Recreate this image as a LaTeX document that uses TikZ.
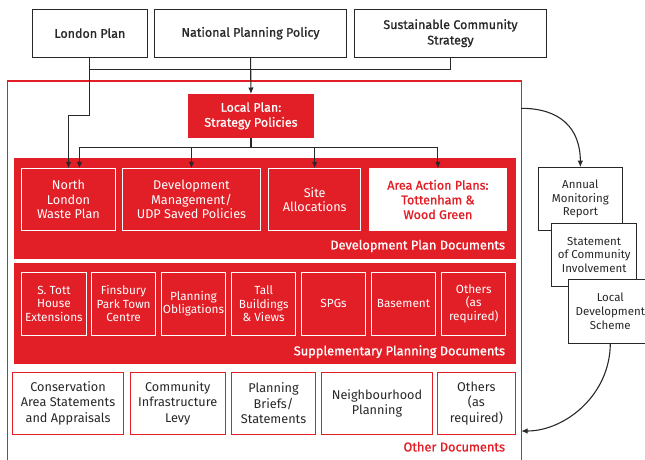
\documentclass[tikz,border=0pt]{standalone}
\usepackage{fontspec}
\setmainfont{Fira Sans}
\newfontfamily\medf[FakeBold=1]{Fira Sans}
\usetikzlibrary{arrows.meta,calc}
\definecolor{hred}{RGB}{226,30,38}
\definecolor{ink}{RGB}{40,40,40}
\begin{document}
\begin{tikzpicture}[x=1pt,y=-1pt,
  every node/.style={inner sep=0pt, outer sep=0pt, align=center},
  topbox/.style={draw=ink, line width=1pt, fill=white, text=ink, font=\medf\fontsize{12.5}{15.5}\selectfont, minimum height=47.7pt},
  band/.style={fill=hred, minimum width=502.2pt, minimum height=100.5pt},
  redbox/.style={draw=white, line width=0.9pt, fill=hred, text=white, font=\fontsize{12.7}{14.7}\selectfont, minimum height=62.4pt},
  whiteredbox/.style={draw=white, line width=0.9pt, fill=white, text=hred, font=\medf\fontsize{12.5}{14.7}\selectfont, minimum height=62.4pt},
  suppbox/.style={draw=white, line width=0.9pt, fill=hred, text=white, font=\fontsize{11.8}{13.6}\selectfont, minimum height=62.7pt, minimum width=64.4pt},
  otherbox/.style={draw=hred, line width=0.9pt, fill=white, text=ink, font=\fontsize{12.7}{15.3}\selectfont, minimum height=62.7pt},
  sidebox/.style={draw=ink, line width=1pt, fill=white, text=ink, font=\fontsize{11.5}{13.6}\selectfont, minimum width=84.5pt, minimum height=63.6pt},
  bandlabel/.style={anchor=east, font=\medf\fontsize{12.8}{15}\selectfont},
  conn/.style={draw=ink, line width=1.1pt},
  arr/.style={conn, -{Latex[length=6.5pt,width=5.5pt]}}
]
\useasboundingbox (0,0) rectangle (645,459);

% outer frame (runs off the bottom edge)
\node[draw=hred, line width=1.3pt, minimum width=513.8pt, minimum height=400pt, anchor=north west] (frame) at (7.4,81) {};

% top boxes
\node[topbox, minimum width=114.8pt] (lp) at (89.9,33.2) {London Plan};
\node[topbox, minimum width=191.7pt] (npp) at (250.55,33.2) {National Planning Policy};
\node[topbox, minimum width=191.7pt] (scs) at (450.45,33.2) {Sustainable Community\\Strategy};

% local plan
\node[fill=hred, text=white, font=\medf\fontsize{12.5}{15}\selectfont, minimum width=125.9pt, minimum height=43.7pt] (lpl) at (250.95,115.85) {Local Plan:\\Strategy Policies};

% bands
\node[band] (dpd) at (264.7,208.65) {};
\node[bandlabel, text=white] (dpdl) at (505,246) {Development Plan Documents};
\node[band] (spd) at (264.7,313.5) {};
\node[bandlabel, text=white] (spdl) at (505,351.7) {Supplementary Planning Documents};
\node[bandlabel, text=hred] (odl) at (505,446.7) {Other Documents};

% development plan documents
\node[redbox, minimum width=93.4pt] (nl) at (68.5,199.5) {North\\London\\Waste Plan};
\node[redbox, minimum width=137.8pt] (dm) at (191.5,199.5) {Development\\Management/\\UDP Saved Policies};
\node[redbox, minimum width=92.2pt] (sa) at (314.7,199.5) {Site\\Allocations};
\node[whiteredbox, minimum width=137pt] (aap) at (437.9,199.5) {Area Action Plans:\\Tottenham \&\\Wood Green};

% supplementary planning documents
\node[suppbox] (st) at (53.9,303.65) {S. Tott\\House\\Extensions};
\node[suppbox] (fp) at (123.6,303.65) {Finsbury\\Park Town\\Centre};
\node[suppbox] (po) at (193.5,303.65) {Planning\\Obligations};
\node[suppbox] (tb) at (263.7,303.65) {Tall\\Buildings\\\& Views};
\node[suppbox] (spg) at (333.6,303.65) {SPGs};
\node[suppbox] (bas) at (403.55,303.65) {Basement};
\node[suppbox] (oth) at (473.7,303.65) {Others\\(as\\required)};

% other documents
\node[otherbox, minimum width=111.5pt] (cas) at (68.05,403.35) {Conservation\\Area Statements\\and Appraisals};
\node[otherbox, minimum width=95.4pt] (cil) at (177.7,403.35) {Community\\Infrastructure\\Levy};
\node[otherbox, minimum width=83.9pt] (pb) at (273.55,403.35) {Planning\\Briefs/\\Statements};
\node[otherbox, minimum width=111.4pt] (np) at (377,403.35) {Neighbourhood\\Planning};
\node[otherbox, minimum width=78.1pt] (oth2) at (476.35,403.35) {Others\\(as\\required)};

% side boxes
\node[sidebox] (amr) at (580.35,199) {Annual\\Monitoring\\Report};
\node[sidebox] (sci) at (594.15,255) {Statement\\of Community\\Involvement};
\node[sidebox] (lds) at (610.3,311.3) {Local\\Development\\Scheme};

% connectors at top
\coordinate (j) at (250.5,69.3);
\coordinate (bus) at (250.95,147.3);
\draw[conn] (lp.south) -- (lp.south |- j) -| (scs.south);
\draw[arr] (npp.south) -- (lpl.north);
\draw[arr] (lp.south |- j) -- ($(lp.south |- j)+(0,46.4)$) -| (nl.north);
\draw[conn] (lpl.south) -- (bus);
\draw[arr] (bus) -| ($(nl.north)+(11,0)$);
\draw[arr] (bus) -| (dm.north);
\draw[arr] (bus) -| (sa.north);
\draw[arr] (bus) -| (aap.north);

% side curves
\coordinate (c1) at (frame.north east |- 0,108.3);
\coordinate (c2) at (frame.north east |- 0,431);
\draw[arr] (c1) .. controls (560,108.3) and (580.35,128) .. (amr.north);
\draw[arr] (lds.south) .. controls (610.3,395) and (565,431) .. (c2);
\end{tikzpicture}
\end{document}
